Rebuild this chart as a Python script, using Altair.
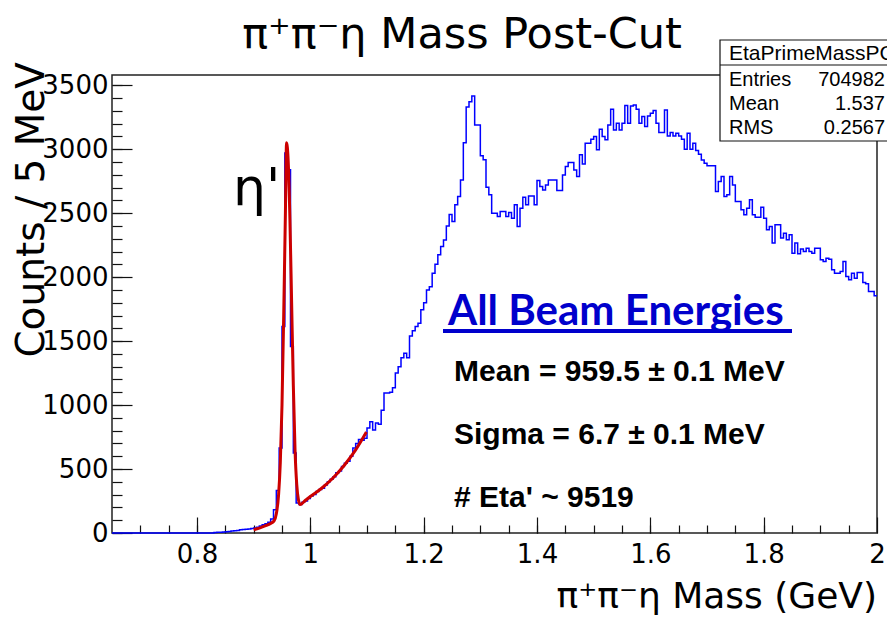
import altair as alt
import pandas as pd

# ---------------- data ----------------
BIN_LO = 0.65          # GeV, first bin lower edge
BIN_W = 0.005          # GeV, 5 MeV bins

counts = (
    [0] * 36
    + [3, 5, 5, 8, 10, 12, 15, 18, 20, 25, 28, 30, 32, 35, 40, 45, 55, 65, 72, 85, 110, 182]
    + [333, 664, 1615, 2970, 2840, 1458, 625, 234]
    + [222, 240, 250, 270, 290, 300, 325, 340, 350, 375, 400]
    + [420, 440, 470, 485, 520, 545, 560, 600, 665, 700, 730, 725, 740, 820, 870, 805,
       860, 850, 960, 1095, 1095, 1100, 1135, 1250, 1300, 1370, 1405, 1370, 1540, 1580,
       1615, 1640, 1745, 1800, 1900, 1925, 2030, 2100, 2175, 2240, 2290, 2400, 2490, 2435,
       2565, 2630, 2760, 3050, 3330, 3370, 3415, 3190, 3190, 2948, 2917, 2703, 2643, 2500,
       2500, 2474]
    + [2513, 2513, 2474, 2505, 2461, 2565, 2396, 2539, 2625, 2565, 2635, 2635, 2565, 2755,
       2708, 2682, 2721, 2760, 2760, 2760, 2677, 2677, 2799, 2864, 2896, 2896, 2838, 2786,
       2956, 2885, 3047, 3047, 3078, 3099, 2995, 3156, 3099, 3073, 3190, 3312, 3151, 3203,
       3151, 3203, 3341, 3203, 3338, 3346, 3312, 3203, 3255, 3177, 3260, 3281, 3302, 3203,
       3130, 3130, 3307, 3104, 3130, 3104, 3125, 3104, 3078, 3000, 3125, 3000, 3047, 2989]
    + [2960, 2916, 2890, 2870, 2870, 2870, 2669, 2747, 2786, 2630, 2643, 2786, 2721, 2591,
       2591, 2526, 2487, 2539, 2604, 2487, 2469, 2469, 2547, 2461, 2370, 2396, 2266, 2409,
       2409, 2305, 2344, 2292, 2331, 2187, 2266, 2182, 2219, 2200, 2226, 2200, 2187, 2226,
       2226, 2135, 2122, 2148, 2140, 2057, 2031, 2031, 2044, 2122, 2005, 1979, 2031, 1992,
       2036, 2036, 1958, 1948, 1888, 1888, 1854]
)

fit_mass = [0.900, 0.910, 0.920, 0.930, 0.936, 0.940, 0.944, 0.947, 0.950, 0.953, 0.956,
            0.958, 0.961, 0.964, 0.967, 0.970, 0.973, 0.976, 0.979, 0.982, 0.990, 1.000,
            1.020, 1.040, 1.060, 1.080, 1.099]
fit_counts = [26, 38, 55, 75, 95, 150, 300, 550, 1000, 1700, 2500,
              3050, 2900, 2450, 1800, 1150, 650, 380, 260, 222, 250, 285,
              350, 430, 530, 650, 790]

x_major = [0.8, 1.0, 1.2, 1.4, 1.6, 1.8, 2.0]
x_minor = [0.7, 0.75, 0.8, 0.85, 0.9, 0.95, 1.0, 1.05, 1.1, 1.15, 1.2, 1.25, 1.3, 1.35,
           1.4, 1.45, 1.5, 1.55, 1.6, 1.65, 1.7, 1.75, 1.8, 1.85, 1.9, 1.95]
y_major = [0, 500, 1000, 1500, 2000, 2500, 3000, 3500]
y_minor = [v for v in range(0, 3600, 100)]

title_text = "π⁺π⁻η Mass Post-Cut"
x_title = "π⁺π⁻η Mass (GeV)"
y_title = "Counts / 5 MeV"
peak_label = "η'"
box_header = "EtaPrimeMassPC"
box_names = ["Entries", "Mean", "RMS"]
box_values = ["704982", "1.537", "0.2567"]
note_head = "All Beam Energies"
note_lines = ["Mean = 959.5  ± 0.1 MeV", "Sigma = 6.7  ± 0.1 MeV", "# Eta' ~ 9519"]

# ---------------- layout ----------------
W, H = 765, 458
OX, OY = 112, 75          # page position of plot area corner
TOTAL_W, TOTAL_H = 879, 608

edges = [round(BIN_LO + BIN_W * i, 4) for i in range(len(counts) + 1)]
hist_df = pd.DataFrame({"m": edges, "c": counts + [counts[-1]]})
fit_df = pd.DataFrame({"m": fit_mass, "c": fit_counts})

xs = alt.Scale(domain=[0.65, 2.0], nice=False, zero=False)
ys = alt.Scale(domain=[0, 3580], nice=False)

ghost = alt.Chart(hist_df).mark_point(opacity=0).encode(
    x=alt.X("m:Q", scale=xs, axis=alt.Axis(orient="top", offset=-H, values=x_minor, tickSize=8,
                                           labels=False, domain=False, grid=False, title=None,
                                           tickColor="#111", tickWidth=1.2)),
    y=alt.Y("c:Q", scale=ys, axis=alt.Axis(orient="right", offset=-W, values=y_minor, tickSize=10,
                                           labels=False, domain=False, grid=False, title=None,
                                           tickColor="#111", tickWidth=1.2)),
)

hist = alt.Chart(hist_df).mark_line(interpolate="step-after", color="#0000ff", strokeWidth=1.5).encode(
    x=alt.X("m:Q", scale=xs, axis=alt.Axis(orient="bottom", values=x_major, format="~g", ticks=False,
                                           tickSize=0, labelPadding=8, domain=False, grid=False,
                                           title=None, labelFont="DejaVu Sans", labelFontSize=26,
                                           labelColor="#000", labelFlush=False, labelOverlap=False)),
    y=alt.Y("c:Q", scale=ys, axis=alt.Axis(orient="left", values=y_major, format="d", ticks=False,
                                           tickSize=0, labelPadding=4, domain=False, grid=False,
                                           title=None, labelFont="DejaVu Sans", labelFontSize=26,
                                           labelColor="#000", labelFlush=False, labelOverlap=False)),
)

fit = alt.Chart(fit_df).mark_line(interpolate="monotone", color="#cc0000", strokeWidth=3).encode(
    x=alt.X("m:Q", scale=xs, axis=alt.Axis(orient="top", offset=-H, values=x_major, tickSize=16,
                                           labels=False, domain=False, grid=False, title=None,
                                           tickColor="#111", tickWidth=1.2)),
    y=alt.Y("c:Q", scale=ys, axis=alt.Axis(orient="right", offset=-W, values=y_major, tickSize=20,
                                           labels=False, domain=False, grid=False, title=None,
                                           tickColor="#111", tickWidth=1.2)),
)


def label(text, px, py, **kw):
    return alt.Chart(pd.DataFrame({"t": [text]})).mark_text(**kw).encode(
        text="t:N", x=alt.value(px - OX), y=alt.value(py - OY))


title = label(title_text, 462, 48, font="DejaVu Sans", fontSize=43, align="center",
              baseline="alphabetic", color="#000")
xt = label(x_title, 877, 608, font="DejaVu Sans", fontSize=36, align="right",
           baseline="alphabetic", color="#000")
yt = label(y_title, 44, 62, font="DejaVu Sans", fontSize=39, align="right",
           baseline="alphabetic", angle=270, color="#000")
eta = label(peak_label, 233, 205, font="DejaVu Sans", fontSize=52, align="left",
            baseline="alphabetic", color="#000")

box = alt.Chart(pd.DataFrame({"a": [0]})).mark_rect(fill="white", stroke="#111", strokeWidth=1.2).encode(
    x=alt.value(720 - OX), x2=alt.value(905 - OX), y=alt.value(40 - OY), y2=alt.value(141 - OY))
box_line = alt.Chart(pd.DataFrame({"a": [0]})).mark_rule(color="#111", strokeWidth=1.2).encode(
    x=alt.value(720 - OX), x2=alt.value(905 - OX), y=alt.value(65 - OY))
hdr = label(box_header, 729, 60, font="Liberation Sans", fontSize=21, align="left",
            baseline="alphabetic", color="#000")
rows = []
for i, (n, v) in enumerate(zip(box_names, box_values)):
    by = 86 + 24 * i
    rows.append(label(n, 729, by, font="Liberation Sans", fontSize=20, align="left",
                      baseline="alphabetic", color="#000"))
    rows.append(label(v, 885, by, font="Liberation Sans", fontSize=20, align="right",
                      baseline="alphabetic", color="#000"))

head = label(note_head, 448, 325, font="Lato", fontSize=42, fontWeight="bold", align="left",
             baseline="alphabetic", color="#0000cc")
underline = alt.Chart(pd.DataFrame({"a": [0]})).mark_rule(color="#0000cc", strokeWidth=4).encode(
    x=alt.value(443 - OX), x2=alt.value(792 - OX), y=alt.value(331 - OY))
notes = [label(t, 454, b, font="Liberation Sans", fontSize=30, fontWeight="bold", align="left",
               baseline="alphabetic", color="#000")
         for t, b in zip(note_lines, [381, 444, 507])]

chart = alt.layer(ghost, hist, fit, title, xt, yt, eta, box, box_line, hdr, *rows,
                  head, underline, *notes).resolve_axis(
    x="independent", y="independent"
).properties(
    width=W, height=H,
    padding={"left": OX - 8, "top": OY - 8, "right": TOTAL_W - (OX - 8) - W,
             "bottom": TOTAL_H - (OY - 8) - H},
    autosize=alt.AutoSizeParams(type="none"),
    background="white",
).configure_view(stroke="#222", strokeWidth=1.5)

chart.save("out.html", embed_options={"renderer": "svg", "actions": False})
